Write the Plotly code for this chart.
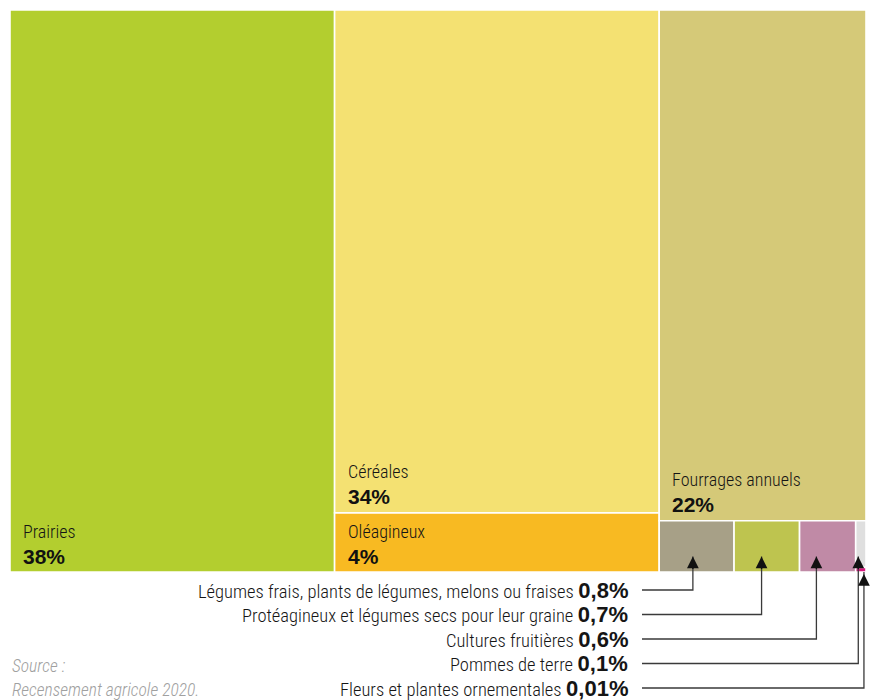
import plotly.graph_objects as go

# Utilised agricultural area by crop group (share of total, %)
categories = [
    "Prairies",
    "Céréales",
    "Oléagineux",
    "Fourrages annuels",
    "Légumes frais, plants de légumes, melons ou fraises",
    "Protéagineux et légumes secs pour leur graine",
    "Cultures fruitières",
    "Pommes de terre",
    "Fleurs et plantes ornementales",
]
shares = [38, 34, 4, 22, 0.8, 0.7, 0.6, 0.1, 0.01]
share_labels = ["38%", "34%", "4%", "22%", "0,8%", "0,7%", "0,6%", "0,1%", "0,01%"]
colors = [
    "#B3CE2F", "#F4E172", "#F8BA22", "#D5C978",
    "#A7A087", "#BEC44F", "#C08AA6", "#DFDFDF", "#D7157C",
]
source_lines = ["Source :", "Recensement agricole 2020."]

# Slice-and-dice nesting: "h" splits horizontally, "v" stacks top to bottom
TREE = ("h", [0, ("v", [1, 2]), ("v", [3, ("h", [4, 5, 6, ("v", [7, 8])])])])

BIG = [0, 1, 2, 3]          # labelled inside their cell
SMALL = [4, 5, 6, 7, 8]     # labelled with a callout below the chart

NARROW = "Roboto, Liberation Sans, sans-serif"
HEAVY = "Liberation Sans, Arial, sans-serif"


def cond(t):
    return f"<span style='font-stretch:75%'>{t}</span>"


W, H = 875, 700
ML, MR, MT, MB = 10, 9, 10, 128
PX0, PX1 = ML, W - MR
PY0, PY1 = MT, H - MB


def px_x(p):
    return (p - PX0) / (PX1 - PX0)


def px_y(p):
    return (PY1 - p) / (PY1 - PY0)


def node_value(n):
    if isinstance(n, int):
        return shares[n]
    return sum(node_value(c) for c in n[1])


def layout_cells(n, x0, x1, y0, y1, out):
    if isinstance(n, int):
        out[n] = (x0, x1, y0, y1)
        return
    direction, kids = n
    tot = node_value(n)
    if direction == "h":
        pos = x0
        for k in kids:
            w = (x1 - x0) * node_value(k) / tot
            layout_cells(k, pos, pos + w, y0, y1, out)
            pos += w
    else:
        pos = y1
        for k in kids:
            h = (y1 - y0) * node_value(k) / tot
            layout_cells(k, x0, x1, pos - h, pos, out)
            pos -= h


total = node_value(TREE)
rects = {}
layout_cells(TREE, 0, total, 0, 1, rects)

fig = go.Figure()
shapes = []
annotations = []

for i, (x0, x1, y0, y1) in rects.items():
    shapes.append(dict(
        type="rect", xref="x", yref="y", x0=x0, x1=x1, y0=y0, y1=y1,
        fillcolor=colors[i], line=dict(color="white", width=1.6), layer="below",
    ))

for i in BIG:
    x0, x1, y0, y1 = rects[i]
    annotations.append(dict(
        xref="x", yref="y", x=x0, y=y0, xanchor="left", yanchor="middle",
        xshift=11, yshift=41, showarrow=False, text=cond(categories[i]),
        font=dict(family=NARROW, size=18, color="#151515", weight=350),
    ))
    annotations.append(dict(
        xref="x", yref="y", x=x0, y=y0, xanchor="left", yanchor="middle",
        xshift=11, yshift=16, showarrow=False, text=f"<b>{share_labels[i]}</b>",
        font=dict(family=HEAVY, size=21, color="#111111"),
    ))

# Callout rows below the chart
row_px = [590, 614.5, 639, 663.5, 688]
text_right_px = 630
line_start_px = 642
row_bottom = rects[4][2]
row_height = rects[4][3] - rects[4][2]
anchor_frac = {4: 0.45, 5: 0.42, 6: 0.3, 7: 0.25, 8: 0.8}

for r, i in enumerate(SMALL):
    x0, x1, y0, y1 = rects[i]
    ax_data = x0 + (x1 - x0) * anchor_frac[i]
    ax_paper = ax_data / total
    if i == 8:
        tip = y0
        standoff = 2
    else:
        tip = row_bottom + 0.3 * row_height
        standoff = 0
    ry = px_y(row_px[r])
    shapes.append(dict(
        type="path", xref="paper", yref="paper",
        path=f"M {px_x(line_start_px)},{ry} L {ax_paper},{ry} L {ax_paper},{tip}",
        line=dict(color="#3a3a3a", width=1.3),
    ))
    annotations.append(dict(
        xref="x", yref="y", x=ax_data, y=tip, ax=0, ay=14, text="",
        showarrow=True, arrowhead=2, arrowsize=1.8, arrowwidth=1.3,
        arrowcolor="#111111", standoff=standoff,
    ))
    annotations.append(dict(
        xref="paper", yref="paper", x=px_x(text_right_px), y=ry,
        xanchor="right", yanchor="middle", showarrow=False,
        text=(f"{cond(categories[i])} <span style='font-family:{HEAVY};font-size:22px'>"
              f"<b>{share_labels[i]}</b></span>"),
        font=dict(family=NARROW, size=18.5, color="#151515", weight=350),
    ))

for k, line in enumerate(source_lines):
    annotations.append(dict(
        xref="paper", yref="paper", x=px_x(10), y=px_y(666 + 24 * k),
        xanchor="left", yanchor="middle", showarrow=False,
        text=f"<i>{cond(line)}</i>",
        font=dict(family=NARROW, size=17.5, color="#a0a0a0", weight=300),
    ))

fig.update_layout(
    width=W, height=H,
    margin=dict(l=ML, r=MR, t=MT, b=MB),
    paper_bgcolor="white", plot_bgcolor="white",
    xaxis=dict(range=[0, total], visible=False, fixedrange=True),
    yaxis=dict(range=[0, 1], visible=False, fixedrange=True),
    shapes=shapes, annotations=annotations, showlegend=False,
)

fig.write_html("out.html")
